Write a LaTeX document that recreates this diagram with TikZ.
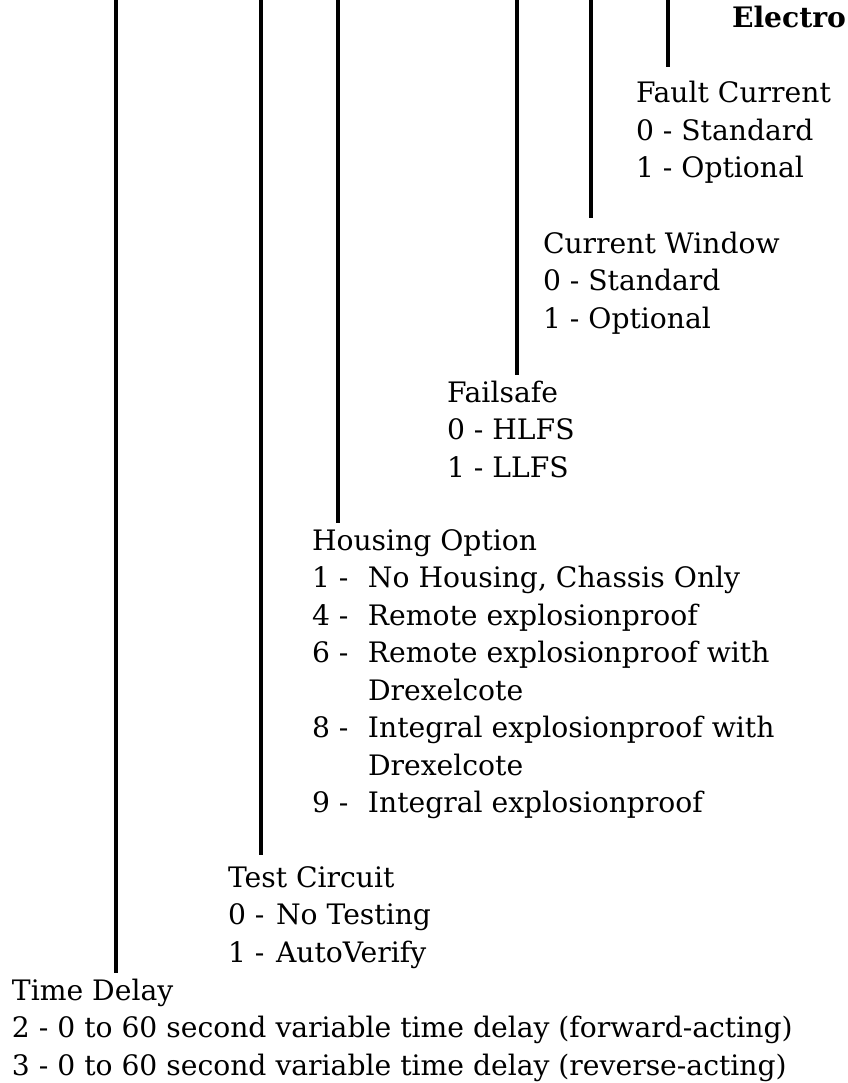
\documentclass[tikz,border=0pt]{standalone}
\usepackage{fontspec}
\setmainfont{DejaVu Serif}
\begin{document}
\begin{tikzpicture}[x=1pt,y=-1pt,
  lbl/.style={anchor=base west, inner sep=0pt, outer sep=0pt, font=\fontsize{28.2}{37.5}\selectfont},
  stem/.style={line width=4pt}]
\useasboundingbox (0,0) rectangle (847,1083);
\coordinate (t1) at (116,-5);
\coordinate (t2) at (261,-5);
\coordinate (t3) at (338,-5);
\coordinate (t4) at (517,-5);
\coordinate (t5) at (591,-5);
\coordinate (t6) at (668,-5);
\node[lbl, font=\fontsize{28.2}{37.5}\selectfont\bfseries] (title) at (732,28) {Electro};
\node[lbl] (fc) at (636,103) {\begin{tabular}[t]{@{}l@{}}Fault Current\\0 - Standard\\1 - Optional\end{tabular}};
\node[lbl] (cw) at (543,253) {\begin{tabular}[t]{@{}l@{}}Current Window\\0 - Standard\\1 - Optional\end{tabular}};
\node[lbl] (fs) at (447,402) {\begin{tabular}[t]{@{}l@{}}Failsafe\\0 - HLFS\\1 - LLFS\end{tabular}};
\node[lbl] (ho) at (312,550) {\begin{tabular}[t]{@{}p{56pt}@{}l@{}}\multicolumn{2}{@{}l@{}}{Housing Option}\\
1 - & No Housing, Chassis Only\\
4 - & Remote explosionproof\\
6 - & Remote explosionproof with\\
    & Drexelcote\\
8 - & Integral explosionproof with\\
    & Drexelcote\\
9 - & Integral explosionproof\end{tabular}};
\node[lbl] (tc) at (228,887) {\begin{tabular}[t]{@{}p{48pt}@{}l@{}}\multicolumn{2}{@{}l@{}}{Test Circuit}\\
0 - & No Testing\\
1 - & AutoVerify\end{tabular}};
\node[lbl] (td) at (12,1000) {\begin{tabular}[t]{@{}l@{}}Time Delay\\
2 - 0 to 60 second variable time delay (forward-acting)\\
3 - 0 to 60 second variable time delay (reverse-acting)\end{tabular}};
\draw[stem] (t6) -- ([yshift=10pt]t6 |- fc.north);
\draw[stem] (t5) -- ([yshift=9pt]t5 |- cw.north);
\draw[stem] (t4) -- ([yshift=1pt]t4 |- fs.north);
\draw[stem] (t3) -- ([yshift=1pt]t3 |- ho.north);
\draw[stem] (t2) -- ([yshift=6pt]t2 |- tc.north);
\draw[stem] (t1) -- ([yshift=1pt]t1 |- td.north);
\end{tikzpicture}
\end{document}
